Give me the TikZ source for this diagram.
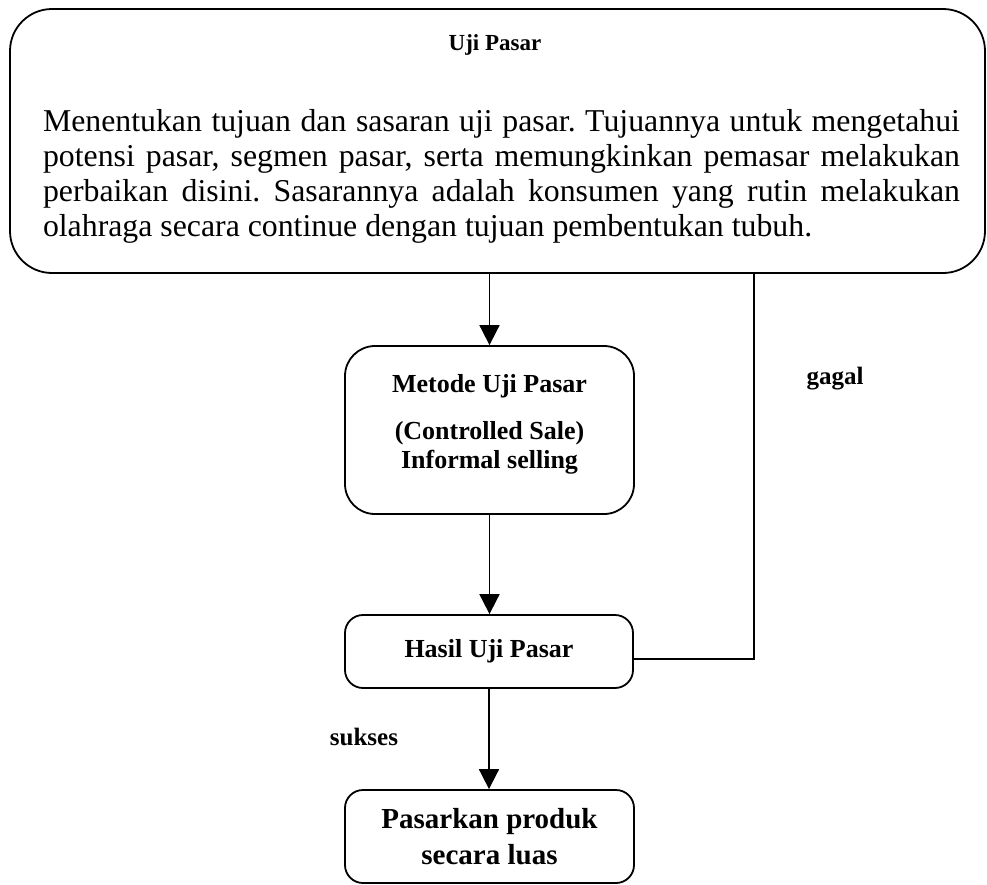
\documentclass[tikz,border=0pt]{standalone}
\usepackage{fontspec}
\setmainfont{Liberation Serif}
\usetikzlibrary{arrows.meta,positioning,calc}

\begin{document}
\begin{tikzpicture}[x=0.5pt,y=-0.5pt,
  every node/.style={font=\bfseries},
  box/.style={draw,line width=0.9pt,rounded corners=9pt,minimum width=144.5pt,align=center,inner sep=0pt},
  arr/.style={-{Triangle[length=10pt,width=10pt]},line width=0.9pt}]
  \useasboundingbox (0,0) rectangle (987,885);

  % main box
  \node[draw,line width=0.9pt,rounded corners=21pt,minimum width=487.5pt,minimum height=132pt,inner sep=0pt] (uji) at (497.5,141) {};
  \node[font=\fontsize{11.5}{13}\selectfont\bfseries] (ujititle) at (495,45) {Uji Pasar};
  \node[text width=458.5pt,align=justify,inner sep=0pt,font=\fontsize{15.9}{17.5}\selectfont] (ujibody) at (501.5,176.5)
    {\frenchspacing\hyphenpenalty=10000\relax
     Menentukan tujuan dan sasaran uji pasar. Tujuannya untuk mengetahui\linebreak
     potensi pasar, segmen pasar, serta memungkinkan pemasar melakukan\linebreak
     perbaikan disini. Sasarannya adalah konsumen yang rutin melakukan\linebreak
     olahraga secara continue dengan tujuan pembentukan tubuh.};

  % steps
  \node[box,rounded corners=15pt,minimum height=84pt,font=\fontsize{13}{14.5}\selectfont\bfseries] (metode) at (489.5,430)
    {Metode Uji Pasar\\[9pt](Controlled Sale)\\Informal selling\\[-6pt]\mbox{}};
  \node[box,minimum width=144pt,minimum height=36.5pt,font=\fontsize{13}{14.5}\selectfont\bfseries] (hasil) at (489,651.5) {Hasil Uji Pasar};
  \node[box,minimum height=46.5pt,font=\fontsize{14.5}{18}\selectfont\bfseries] (pasarkan) at (489.5,836.5)
    {Pasarkan produk\\secara luas};

  % connectors
  \draw[arr] (uji.south -| metode.north) -- (metode.north);
  \draw[arr] (metode.south) -- (metode.south |- hasil.north);
  \draw[arr] (hasil.south) -- (hasil.south |- pasarkan.north);
  \coordinate (gagalbend) at (754,659);
  \draw[line width=0.9pt] (hasil.east |- gagalbend) -- (gagalbend) -- (gagalbend |- uji.south);

  % labels
  \node[font=\fontsize{12.5}{14}\selectfont\bfseries] (gagal) at (835,379) {gagal};
  \node[font=\fontsize{12.5}{14}\selectfont\bfseries] (sukses) at (364,737) {sukses};
\end{tikzpicture}
\end{document}
